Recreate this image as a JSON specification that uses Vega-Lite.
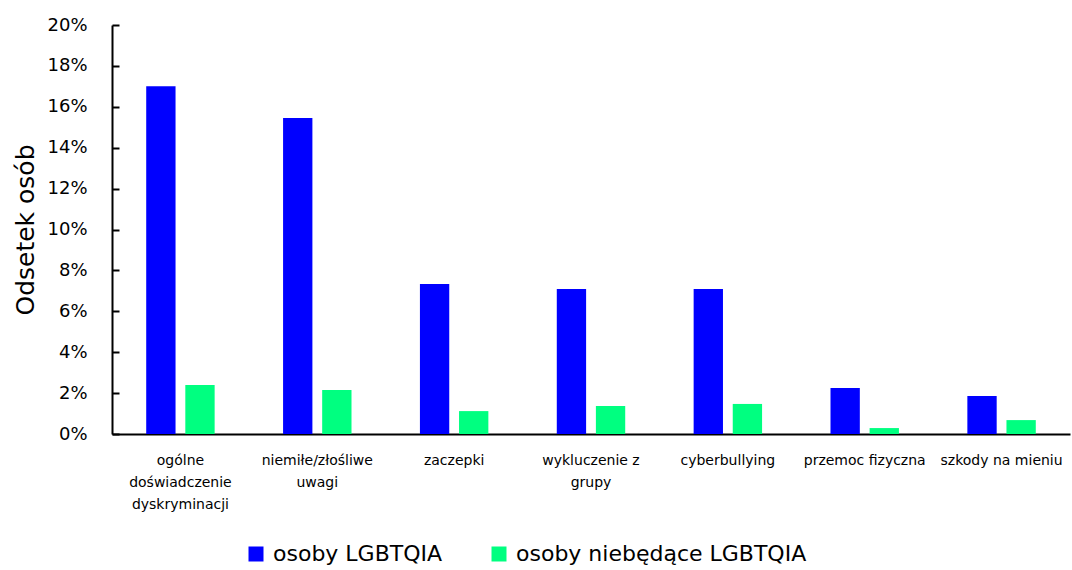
{
  "$schema": "https://vega.github.io/schema/vega-lite/v6.json",
  "width": 958,
  "height": 409,
  "autosize": {"type": "none"},
  "padding": {"left": 112, "top": 25, "right": 2, "bottom": 136},
  "background": "white",
  "data": {
    "values": [
      {"kategoria": "ogólne doświadczenie dyskryminacji", "grupa": "osoby LGBTQIA", "odsetek": 0.170},
      {"kategoria": "ogólne doświadczenie dyskryminacji", "grupa": "osoby niebędące LGBTQIA", "odsetek": 0.024},
      {"kategoria": "niemiłe/złośliwe uwagi", "grupa": "osoby LGBTQIA", "odsetek": 0.1545},
      {"kategoria": "niemiłe/złośliwe uwagi", "grupa": "osoby niebędące LGBTQIA", "odsetek": 0.0215},
      {"kategoria": "zaczepki", "grupa": "osoby LGBTQIA", "odsetek": 0.0733},
      {"kategoria": "zaczepki", "grupa": "osoby niebędące LGBTQIA", "odsetek": 0.0112},
      {"kategoria": "wykluczenie z grupy", "grupa": "osoby LGBTQIA", "odsetek": 0.0709},
      {"kategoria": "wykluczenie z grupy", "grupa": "osoby niebędące LGBTQIA", "odsetek": 0.0137},
      {"kategoria": "cyberbullying", "grupa": "osoby LGBTQIA", "odsetek": 0.0709},
      {"kategoria": "cyberbullying", "grupa": "osoby niebędące LGBTQIA", "odsetek": 0.0147},
      {"kategoria": "przemoc fizyczna", "grupa": "osoby LGBTQIA", "odsetek": 0.0225},
      {"kategoria": "przemoc fizyczna", "grupa": "osoby niebędące LGBTQIA", "odsetek": 0.0029},
      {"kategoria": "szkody na mieniu", "grupa": "osoby LGBTQIA", "odsetek": 0.0186},
      {"kategoria": "szkody na mieniu", "grupa": "osoby niebędące LGBTQIA", "odsetek": 0.0068}
    ]
  },
  "config": {
    "font": "DejaVu Sans",
    "view": {"stroke": null},
    "axis": {"grid": false, "domainColor": "black", "tickColor": "black", "labelColor": "black", "titleColor": "black", "labelFont": "DejaVu Sans", "titleFont": "DejaVu Sans"},
    "legend": {"labelFont": "DejaVu Sans"}
  },
  "mark": {"type": "bar"},
  "encoding": {
    "x": {
      "field": "kategoria",
      "type": "nominal",
      "sort": null,
      "scale": {"paddingInner": 0.5, "paddingOuter": 0.25},
      "axis": {
        "title": null,
        "labelAngle": 0,
        "ticks": false,
        "domainWidth": 2,
        "labelFontSize": 14,
        "labelPadding": 19,
        "labelLineHeight": 22,
        "labelLimit": 300,
        "labelBaseline": "top",
        "labelExpr": "datum.value == 'ogólne doświadczenie dyskryminacji' ? ['ogólne', 'doświadczenie', 'dyskryminacji'] : datum.value == 'niemiłe/złośliwe uwagi' ? ['niemiłe/złośliwe', 'uwagi'] : datum.value == 'wykluczenie z grupy' ? ['wykluczenie z', 'grupy'] : datum.value"
      }
    },
    "xOffset": {"field": "grupa", "type": "nominal", "scale": {"paddingInner": 0.25, "paddingOuter": 0}},
    "y": {
      "field": "odsetek",
      "type": "quantitative",
      "scale": {"domain": [0, 0.2], "nice": false},
      "axis": {
        "title": "Odsetek osób",
        "titleFontSize": 25,
        "titleFontWeight": "normal",
        "titlePadding": 8,
        "format": ".0%",
        "values": [0, 0.02, 0.04, 0.06, 0.08, 0.1, 0.12, 0.14, 0.16, 0.18, 0.2],
        "labelFontSize": 18,
        "labelPadding": 32,
        "tickSize": -7,
        "tickWidth": 2,
        "domainWidth": 2
      }
    },
    "color": {
      "field": "grupa",
      "type": "nominal",
      "scale": {"domain": ["osoby LGBTQIA", "osoby niebędące LGBTQIA"], "range": ["#0000FF", "#00FF80"]},
      "legend": {
        "title": null,
        "orient": "none",
        "direction": "horizontal",
        "legendX": 133,
        "legendY": 518,
        "symbolType": "square",
        "symbolSize": 225,
        "symbolStrokeWidth": 0,
        "labelFontSize": 22,
        "labelColor": "black",
        "labelLimit": 400,
        "columnPadding": 45,
        "labelOffset": 6
      }
    }
  }
}
